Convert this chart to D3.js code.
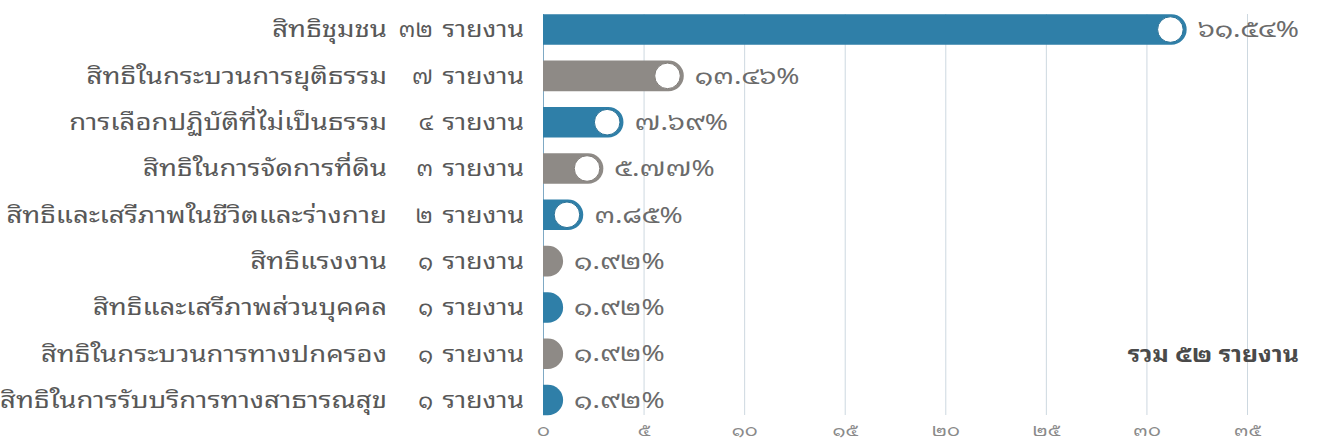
<!DOCTYPE html>
<html><head><meta charset="utf-8">
<script src="https://cdn.jsdelivr.net/npm/d3@7"></script>
<style>
html,body{margin:0;padding:0;background:#fff;}
text{font-family:"Noto Sans Thai Looped","Noto Sans Thai","Loma","Garuda","Tlwg Typo","Sarabun","Noto Sans",sans-serif;}
</style></head>
<body><svg id="c" width="1319" height="443"></svg>
<script>
const categories = ["สิทธิชุมชน","สิทธิในกระบวนการยุติธรรม","การเลือกปฏิบัติที่ไม่เป็นธรรม","สิทธิในการจัดการที่ดิน","สิทธิและเสรีภาพในชีวิตและร่างกาย","สิทธิแรงงาน","สิทธิและเสรีภาพส่วนบุคคล","สิทธิในกระบวนการทางปกครอง","สิทธิในการรับบริการทางสาธารณสุข"];
const counts = [32,7,4,3,2,1,1,1,1];
const percents = ["61.54","13.46","7.69","5.77","3.85","1.92","1.92","1.92","1.92"];
const tickValues = [0,5,10,15,20,25,30,35];
const totalLabel = "รวม ๕๒ รายงาน";
const unit = "รายงาน";

const thaiDigits = "๐๑๒๓๔๕๖๗๘๙";
const th = s => String(s).replace(/[0-9]/g, d => thaiDigits[+d]);

const svg = d3.select("#c");
const x0 = 543, xR = 1247, gridTop = 14, gridBottom = 415;
const x = d3.scaleLinear().domain([0,35]).range([x0,xR]);
const y = d3.scaleBand().domain(categories).range([6.4,423.2]).paddingInner(0.34).paddingOuter(0.17);
const colors = ["#2f7fa8","#8e8a86"];

// grid + axis
const axis = d3.axisBottom(x).tickValues(tickValues).tickSize(-(gridBottom-gridTop)).tickPadding(9).tickFormat(d=>th(d));
const ga = svg.append("g").attr("transform",`translate(0,${gridBottom})`).call(axis);
ga.select(".domain").remove();
ga.selectAll(".tick line").attr("stroke",d=>d===0?"#7fa9c4":"#cdd8e0").attr("stroke-width",1);
ga.selectAll(".tick text").attr("fill","#8a8a8a").attr("font-size",16.5)
  .attr("transform",`scale(1.2,1)`);

// bars
const h = y.bandwidth(), r = h/2;
const barPath = (v, i) => {
  const xs = x(0), w = x(v)-x(0), yt = y(categories[i]);
  if (w >= r) return `M${xs},${yt}H${xs+w-r}A${r},${r} 0 0 1 ${xs+w-r},${yt+h}H${xs}Z`;
  return `M${xs},${yt}A${w},${r} 0 0 1 ${xs},${yt+h}Z`;
};
svg.append("g").selectAll("path").data(counts).join("path")
  .attr("d",(d,i)=>barPath(d,i))
  .attr("fill",(d,i)=>colors[i%2]);

svg.append("g").selectAll("circle").data(counts.map((c,i)=>({c,i})).filter(d=>d.c>=2)).join("circle")
  .attr("cx",d=>x(d.c)-r-1)
  .attr("cy",d=>y(categories[d.i])+h/2)
  .attr("r",r-2.5)
  .attr("fill","#fff")
  .attr("stroke",d=>d3.color(colors[d.i%2]).darker(0.3))
  .attr("stroke-width",1);

const stretched = (sel, fx, fy, sx) => sel.attr("transform",(d,i)=>`translate(${fx(d,i)},${fy(d,i)}) scale(${sx},1)`);

// percent labels
stretched(svg.append("g").selectAll("text").data(percents).join("text"),
  (d,i)=>x(counts[i])+11, (d,i)=>y(categories[i])+h/2, 1.27)
  .attr("dy","0.35em").attr("font-size",22)
  .attr("fill","#6b6b6b")
  .text(d=>th(d)+"%");

// category labels
stretched(svg.append("g").selectAll("text").data(categories).join("text"),
  d=>387, d=>y(d)+h/2, 1.225)
  .attr("dy","0.35em").attr("text-anchor","end").attr("font-size",22.5).attr("fill","#585858")
  .text(d=>d);

// count numbers
stretched(svg.append("g").selectAll("text").data(counts).join("text"),
  d=>433, (d,i)=>y(categories[i])+h/2, 1.0)
  .attr("dy","0.35em").attr("text-anchor","end").attr("font-size",22.5).attr("fill","#585858")
  .text(d=>th(d));

// unit labels
stretched(svg.append("g").selectAll("text").data(counts).join("text"),
  d=>524, (d,i)=>y(categories[i])+h/2, 1.18)
  .attr("dy","0.35em").attr("text-anchor","end").attr("font-size",22.5).attr("fill","#585858")
  .text(unit);

// total
svg.append("text").attr("transform",`translate(1299,${y(categories[7])+h/2}) scale(1.08,1)`).attr("dy","0.35em")
  .attr("text-anchor","end").attr("font-size",23).attr("font-weight","bold").attr("fill","#4a4a4a")
  .text(totalLabel);
</script></body></html>
